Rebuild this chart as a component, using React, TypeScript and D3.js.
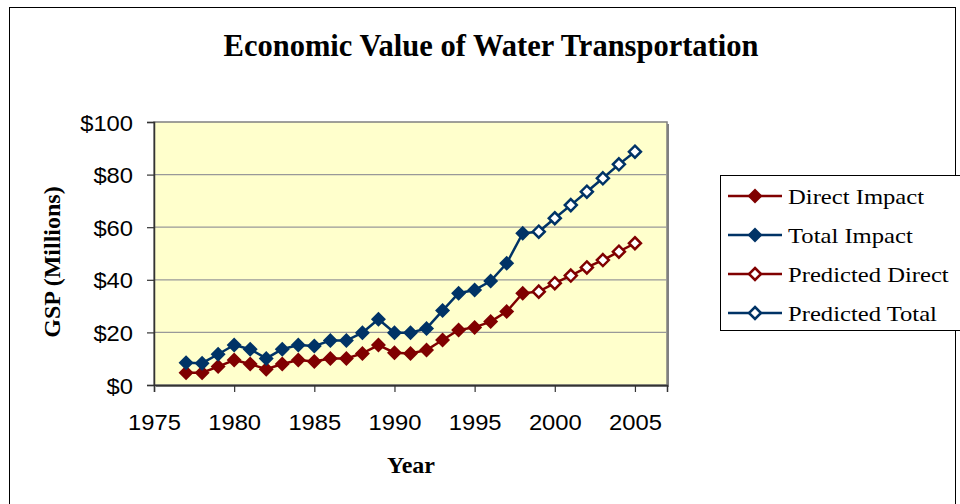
import React, { useEffect, useRef } from 'react';
import * as d3 from 'd3';

const actualYears = [1977, 1978, 1979, 1980, 1981, 1982, 1983, 1984, 1985, 1986, 1987,
    1988, 1989, 1990, 1991, 1992, 1993, 1994, 1995, 1996, 1997, 1998];
const directImpact = [4.7, 4.7, 7.0, 9.5, 8.0, 6.0, 8.0, 9.5, 8.9, 10.1, 10.1,
    12.0, 15.2, 12.3, 12.0, 13.3, 17.1, 20.9, 21.9, 24.1, 27.9, 34.9];
const totalImpact = [8.5, 8.3, 11.7, 15.2, 13.6, 10.1, 13.6, 15.2, 14.8, 16.9, 16.9,
    19.9, 25.0, 19.9, 19.9, 21.5, 28.3, 34.9, 36.1, 39.5, 46.3, 57.7];

const predictedYears = [1999, 2000, 2001, 2002, 2003, 2004, 2005];
const predictedDirect = [35.5, 38.7, 41.6, 44.7, 47.5, 50.7, 53.9];
const predictedTotal = [58.3, 63.4, 68.4, 73.5, 78.6, 83.9, 88.7];

const xTicks = [1975, 1980, 1985, 1990, 1995, 2000, 2005];
const yTicks = [0, 20, 40, 60, 80, 100];

const RED = '#800000';
const BLUE = '#003366';

function App() {
    const svgRef = useRef<SVGSVGElement>(null);

    useEffect(() => {
        const svg = d3.select(svgRef.current);
        svg.selectAll('*').remove();

        const left = 154, right = 667, top = 122, bottom = 385;
        const sx = 1.12; // glyphs in the reference look a bit wide
        const serif = '"Liberation Serif", "Times New Roman", serif';
        const sans = '"Liberation Sans", Arial, sans-serif';

        const x = d3.scaleLinear().domain([1975, 2007]).range([left, right]);
        const y = d3.scaleLinear().domain([0, 100]).range([bottom, top]);

        // outer chart border
        svg.append('rect')
            .attr('x', 9.5).attr('y', 7.5)
            .attr('width', 946).attr('height', 520)
            .attr('fill', '#fff')
            .attr('stroke', '#000').attr('stroke-width', 1);

        svg.append('text')
            .attr('transform', `translate(491,56)`)
            .attr('text-anchor', 'middle')
            .attr('font-family', serif)
            .attr('font-weight', 'bold')
            .attr('font-size', 30.5)
            .text('Economic Value of Water Transportation');

        // plot area with shadow
        svg.append('rect')
            .attr('x', left + 2).attr('y', top + 2)
            .attr('width', right - left).attr('height', bottom - top)
            .attr('fill', '#808080');
        svg.append('rect')
            .attr('x', left).attr('y', top)
            .attr('width', right - left).attr('height', bottom - top)
            .attr('fill', '#FFFFCC')
            .attr('stroke', '#808080').attr('stroke-width', 1.5);

        svg.append('g')
            .selectAll('line')
            .data(yTicks.filter(d => d > 0 && d < 100))
            .enter()
            .append('line')
            .attr('x1', left).attr('x2', right)
            .attr('y1', d => y(d)).attr('y2', d => y(d))
            .attr('stroke', '#999').attr('stroke-width', 1.2);

        // y axis
        const yAxis = svg.append('g')
            .attr('transform', `translate(${left},0)`)
            .call(d3.axisLeft(y).tickValues(yTicks).tickSize(7).tickFormat(d => `$${d}`));
        yAxis.select('.domain').attr('stroke', '#333').attr('stroke-width', 1.5);
        yAxis.selectAll('.tick line').attr('stroke', '#333').attr('stroke-width', 1.2);
        yAxis.selectAll('.tick text')
            .attr('x', null).attr('dy', null)
            .attr('transform', `translate(-21,8) scale(1.08,1)`)
            .attr('font-family', sans)
            .attr('font-size', 22)
            .attr('fill', '#000');

        // x axis
        const xAxis = svg.append('g')
            .attr('transform', `translate(0,${bottom})`)
            .call(d3.axisBottom(x).tickValues(xTicks).tickSize(7).tickFormat(d3.format('d')));
        xAxis.select('.domain').attr('stroke', '#333').attr('stroke-width', 1.5);
        xAxis.selectAll('.tick line').attr('stroke', '#333').attr('stroke-width', 1.2);
        xAxis.selectAll('.tick text')
            .attr('y', null).attr('dy', null)
            .attr('transform', `translate(0,45) scale(1.08,1)`)
            .attr('font-family', sans)
            .attr('font-size', 22)
            .attr('fill', '#000');

        svg.append('text')
            .attr('transform', `translate(411,473)`)
            .attr('text-anchor', 'middle')
            .attr('font-family', serif)
            .attr('font-weight', 'bold')
            .attr('font-size', 24)
            .text('Year');

        svg.append('text')
            .attr('transform', `translate(60,262) rotate(-90)`)
            .attr('text-anchor', 'middle')
            .attr('font-family', serif)
            .attr('font-weight', 'bold')
            .attr('font-size', 24)
            .text('GSP (Millions)');

        const diamond = (cx: number, cy: number, r: number) =>
            `M${cx},${cy - r}L${cx + r},${cy}L${cx},${cy + r}L${cx - r},${cy}Z`;

        const line = d3.line<[number, number]>()
            .x(d => x(d[0]))
            .y(d => y(d[1]));

        const series = [
            { name: 'Direct Impact', years: actualYears, values: directImpact, color: RED, open: false },
            { name: 'Total Impact', years: actualYears, values: totalImpact, color: BLUE, open: false },
            { name: 'Predicted Direct', years: predictedYears, values: predictedDirect, color: RED, open: true,
                join: [actualYears[actualYears.length - 1], directImpact[directImpact.length - 1]] },
            { name: 'Predicted Total', years: predictedYears, values: predictedTotal, color: BLUE, open: true,
                join: [actualYears[actualYears.length - 1], totalImpact[totalImpact.length - 1]] },
        ];

        series.forEach(s => {
            const pts: [number, number][] = s.years.map((yr, i) => [yr, s.values[i]]);
            const linePts = s.join ? [s.join as [number, number], ...pts] : pts;
            svg.append('path')
                .attr('d', line(linePts))
                .attr('fill', 'none')
                .attr('stroke', s.color)
                .attr('stroke-width', 2.5);
            svg.append('g')
                .selectAll('path')
                .data(pts)
                .enter()
                .append('path')
                .attr('d', d => s.open ? diamond(x(d[0]), y(d[1]), 6) : diamond(x(d[0]), y(d[1]), 7.5))
                .attr('fill', s.open ? '#fff' : s.color)
                .attr('stroke', s.color)
                .attr('stroke-width', s.open ? 2.5 : 0);
        });

        // legend
        const lg = svg.append('g');
        lg.append('rect')
            .attr('x', 720.5).attr('y', 175.5)
            .attr('width', 250).attr('height', 155)
            .attr('fill', '#fff')
            .attr('stroke', '#000').attr('stroke-width', 1);
        series.forEach((s, i) => {
            const cy = 196 + i * 39;
            lg.append('line')
                .attr('x1', 728).attr('x2', 782)
                .attr('y1', cy).attr('y2', cy)
                .attr('stroke', s.color).attr('stroke-width', 2.5);
            lg.append('path')
                .attr('d', s.open ? diamond(755, cy, 6) : diamond(755, cy, 7.5))
                .attr('fill', s.open ? '#fff' : s.color)
                .attr('stroke', s.color)
                .attr('stroke-width', s.open ? 2.5 : 0);
            lg.append('text')
                .attr('transform', `translate(788,${cy + 8}) scale(${sx},1)`)
                .attr('font-family', serif)
                .attr('font-size', 22)
                .text(s.name);
        });
    }, []);

    return (
        <div style={{ position: 'absolute', left: 0, top: 0 }}>
            <svg ref={svgRef} width={960} height={504}></svg>
        </div>
    );
}

export default App;
